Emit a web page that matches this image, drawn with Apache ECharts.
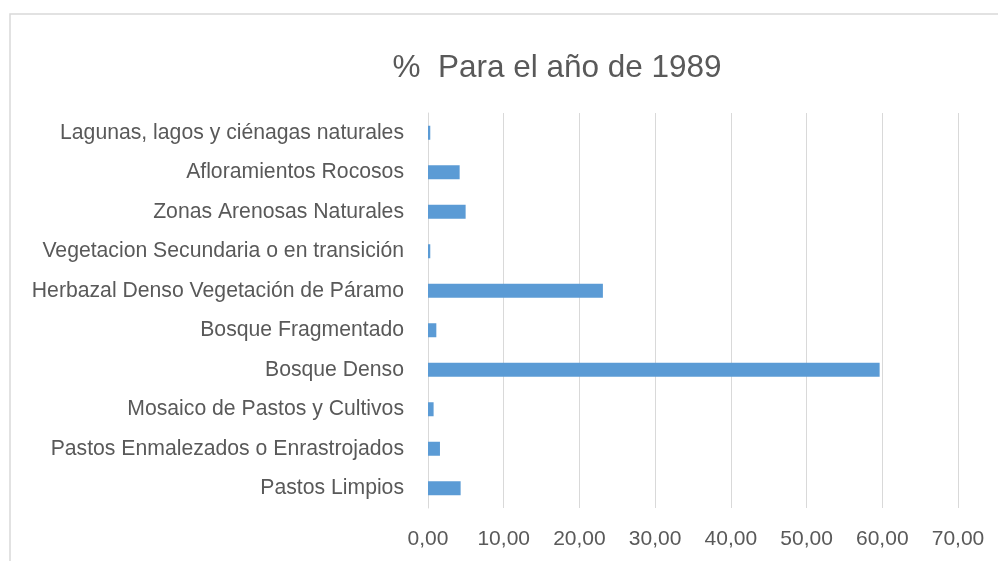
<!DOCTYPE html>
<html>
<head>
<meta charset="utf-8">
<script src="https://cdn.jsdelivr.net/npm/echarts@6/dist/echarts.min.js"></script>
<style>
  html, body { margin: 0; padding: 0; background: #fff; }
  #chart { width: 998px; height: 561px; }
</style>
</head>
<body>
<div id="chart"></div>
<script>
// categories listed bottom to top (ECharts puts the first one at the bottom)
var categories = [
  'Pastos Limpios',
  'Pastos Enmalezados o Enrastrojados',
  'Mosaico de Pastos y Cultivos',
  'Bosque Denso',
  'Bosque Fragmentado',
  'Herbazal Denso Vegetación de Páramo',
  'Vegetacion Secundaria o en transición',
  'Zonas Arenosas Naturales',
  'Afloramientos Rocosos',
  'Lagunas, lagos y ciénagas naturales'
];
var percent1989 = [4.31, 1.58, 0.74, 59.65, 1.1, 23.1, 0.3, 4.97, 4.18, 0.3];
var tickMax = 70;
var tickStep = 10;

var chart = echarts.init(document.getElementById('chart'));
chart.setOption({
  animation: false,
  backgroundColor: '#fff',
  textStyle: { fontFamily: 'Liberation Sans' },
  title: {
    text: '%  Para el año de 1989',
    left: 552,
    top: 47,
    textAlign: 'center',
    textStyle: { fontSize: 31.5, fontWeight: 'normal', color: '#595959', fontFamily: 'Liberation Sans' }
  },
  graphic: [{
    type: 'rect',
    shape: { x: 10, y: 14, width: 1100, height: 700 },
    style: { fill: 'none', stroke: '#d9d9d9', lineWidth: 1.5 },
    silent: true
  }],
  grid: { left: 428, right: 40, top: 113, bottom: 53, containLabel: false },
  xAxis: {
    type: 'value',
    min: 0,
    max: tickMax,
    interval: tickStep,
    axisLine: { show: false },
    axisTick: { show: false },
    splitLine: { lineStyle: { color: '#d9d9d9', width: 1 } },
    axisLabel: {
      margin: 21,
      fontSize: 21,
      color: '#595959',
      formatter: function (v) { return v.toFixed(2).replace('.', ','); }
    }
  },
  yAxis: {
    type: 'category',
    data: categories,
    axisLine: { show: true, lineStyle: { color: '#d9d9d9', width: 1 } },
    axisTick: { show: false },
    axisLabel: { margin: 24, fontSize: 21.2, color: '#595959' }
  },
  series: [{
    type: 'bar',
    data: percent1989,
    barWidth: 14,
    itemStyle: { color: '#5b9bd5' }
  }]
});
</script>
</body>
</html>
